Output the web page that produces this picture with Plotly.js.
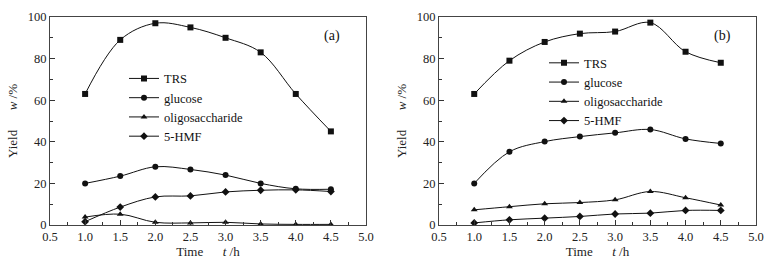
<!DOCTYPE html>
<html>
<head>
<meta charset="utf-8">
<script src="https://cdn.plot.ly/plotly-3.0.1.min.js"></script>
<style>html,body{margin:0;padding:0;background:#fff;}#chart{width:776px;height:267px;}</style>
</head>
<body>
<div id="chart"></div>
<script>
// Time points (h)
const times = [1.0, 1.5, 2.0, 2.5, 3.0, 3.5, 4.0, 4.5];
const seriesNames = ["TRS", "glucose", "oligosaccharide", "5-HMF"];

// Panel (a) yields, w/%
const aTRS     = [63, 89, 97, 95, 90, 83, 63, 45];
const aGlucose = [20, 23.5, 28, 26.7, 24, 20, 17.4, 17.2];
const aOligo   = [3.8, 5.2, 1.3, 1.0, 1.3, 0.5, 0.3, 0.3];
const aHMF     = [1.6, 8.6, 13.5, 14, 15.9, 16.7, 16.9, 16.1];

// Panel (b) yields, w/%
const bTRS     = [63, 79, 88, 92, 93, 97.3, 83.3, 78];
const bGlucose = [20, 35.2, 40.1, 42.5, 44.3, 45.9, 41.4, 39.2];
const bOligo   = [7.3, 8.8, 10.2, 10.8, 12.1, 16.1, 13.1, 9.6];
const bHMF     = [1.0, 2.5, 3.3, 4.1, 5.3, 5.7, 7.0, 7.0];

const panelLabels = ["(a)", "(b)"];
const xTickVals = [0.5, 1.0, 1.5, 2.0, 2.5, 3.0, 3.5, 4.0, 4.5, 5.0];
const xTickText = ["0.5", "1.0", "1.5", "2.0", "2.5", "3.0", "3.5", "4.0", "4.5", "5.0"];

const symbols = ["square", "circle", "triangle-up", "diamond"];
const FONT = "Liberation Serif";

function mk(y, i, xa, ya, leg) {
  return {
    x: times, y: y, name: seriesNames[i], type: "scatter", mode: "lines+markers",
    xaxis: xa, yaxis: ya, legend: leg,
    line: {color: "#111", width: 1, shape: "spline", smoothing: 1},
    marker: {symbol: symbols[i], size: 6, color: "#111"}
  };
}

const data = [
  mk(aTRS, 0, "x", "y", "legend"),
  mk(aGlucose, 1, "x", "y", "legend"),
  mk(aOligo, 2, "x", "y", "legend"),
  mk(aHMF, 3, "x", "y", "legend"),
  mk(bTRS, 0, "x2", "y2", "legend2"),
  mk(bGlucose, 1, "x2", "y2", "legend2"),
  mk(bOligo, 2, "x2", "y2", "legend2"),
  mk(bHMF, 3, "x2", "y2", "legend2")
];

function xax(domain, anchor) {
  return {
    domain: domain, anchor: anchor, range: [0.5, 5.0],
    tickvals: xTickVals, ticktext: xTickText,
    ticks: "inside", ticklen: 5, tickcolor: "#333",
    minor: {ticks: "inside", ticklen: 3, dtick: 0.25, tick0: 0.5, tickcolor: "#333"},
    showline: true, linecolor: "#444", linewidth: 1, mirror: true,
    showgrid: false, zeroline: false,
    tickfont: {family: FONT, size: 12.5, color: "#222"},
    title: {text: "Time\u00a0\u00a0\u00a0\u00a0\u00a0\u00a0<i>t</i> /h", font: {family: FONT, size: 13, color: "#222"}, standoff: 3}
  };
}
function yax(anchor) {
  return {
    domain: [0, 1], anchor: anchor, range: [0, 100],
    tickvals: [0, 20, 40, 60, 80, 100],
    ticks: "inside", ticklen: 5, tickcolor: "#333",
    minor: {ticks: "inside", ticklen: 3, dtick: 10, tickcolor: "#333"},
    showline: true, linecolor: "#444", linewidth: 1, mirror: true,
    showgrid: false, zeroline: false,
    tickfont: {family: FONT, size: 12.5, color: "#222"},
    title: {text: "Yield\u00a0\u00a0\u00a0\u00a0\u00a0\u00a0<i>w</i> /%", font: {family: FONT, size: 13, color: "#222"}, standoff: 7}
  };
}

function leg(x, y) {
  return {
    x: x, y: y, xanchor: "left", yanchor: "top",
    bgcolor: "rgba(0,0,0,0)", borderwidth: 0,
    font: {family: FONT, size: 12.5, color: "#111"},
    tracegroupgap: 0, itemwidth: 30
  };
}

const layout = {
  width: 776, height: 267,
  margin: {l: 0, r: 0, t: 17, b: 42, pad: 0},
  paper_bgcolor: "#fff", plot_bgcolor: "#fff",
  showlegend: true,
  font: {family: FONT, color: "#111"},
  xaxis: xax([50/776, 366/776], "y"),
  yaxis: yax("x"),
  xaxis2: xax([439/776, 756/776], "y2"),
  yaxis2: yax("x2"),
  legend: leg(124/776, 0.775),
  legend2: leg(544/776, 0.85),
  annotations: [
    {text: panelLabels[0], xref: "x", yref: "y", x: 4.52, y: 91, showarrow: false, font: {family: FONT, size: 14, color: "#111"}},
    {text: panelLabels[1], xref: "x2", yref: "y2", x: 4.52, y: 91, showarrow: false, font: {family: FONT, size: 14, color: "#111"}}
  ]
};

Plotly.newPlot("chart", data, layout, {staticPlot: true, displayModeBar: false});
</script>
</body>
</html>
